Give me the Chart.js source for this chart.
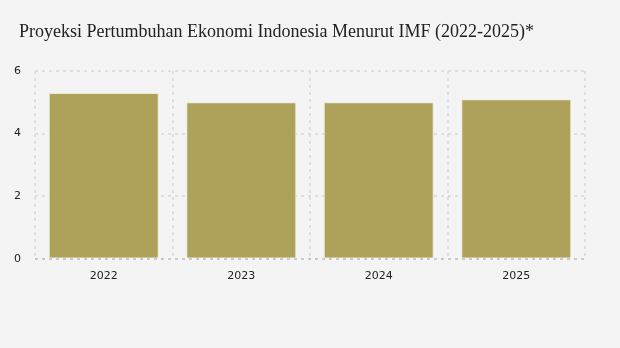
<!DOCTYPE html>
<html lang="id">
<head>
    <meta charset="UTF-8">
    <title>Proyeksi Pertumbuhan Ekonomi Indonesia</title>
    <style>
        html, body {
            margin: 0;
            padding: 0;
            background-color: #f4f4f4;
        }
        .chart-box {
            position: relative;
            width: 620px;
            height: 348px;
        }
        .chart-title {
            position: absolute;
            left: 19px;
            top: 21px;
            margin: 0;
            font-family: 'Liberation Serif', serif;
            font-size: 18px;
            font-weight: normal;
            line-height: 20px;
            color: #222222;
        }
    </style>
</head>
<body>
    <div class="chart-box">
        <h1 class="chart-title">Proyeksi Pertumbuhan Ekonomi Indonesia Menurut IMF (2022-2025)*</h1>
        <canvas id="growthChart" width="620" height="348"></canvas>
    </div>
    <script src="https://cdn.jsdelivr.net/npm/chart.js"></script>
    <script>
        // Data
        const years = ['2022', '2023', '2024', '2025'];
        const growth = [5.3, 5.0, 5.0, 5.1];
        const yTicks = [0, 2, 4, 6];

        const gridColor = '#dedede';
        const axisColor = '#cacaca';

        const ctx = document.getElementById('growthChart').getContext('2d');
        new Chart(ctx, {
            type: 'bar',
            data: {
                labels: years,
                datasets: [{
                    label: 'Pertumbuhan Ekonomi (%)',
                    data: growth,
                    backgroundColor: '#aea15a',
                    borderColor: '#ece8cf',
                    borderWidth: 1,
                    categoryPercentage: 0.8,
                    barPercentage: 1.0
                }]
            },
            options: {
                responsive: false,
                animation: false,
                layout: {
                    padding: { left: 0, right: 35, top: 71, bottom: 54 }
                },
                plugins: {
                    legend: { display: false },
                    tooltip: { enabled: false }
                },
                scales: {
                    x: {
                        grid: {
                            color: gridColor,
                            lineWidth: 2,
                            drawTicks: false
                        },
                        border: { display: false, dash: [3, 4] },
                        ticks: {
                            color: '#222222',
                            padding: 11,
                            font: { family: 'DejaVu Sans', size: 11 }
                        }
                    },
                    y: {
                        min: 0,
                        max: 6,
                        afterBuildTicks: axis => {
                            axis.ticks = yTicks.map(v => ({ value: v }));
                        },
                        afterFit: axis => {
                            axis.width = 35;
                        },
                        grid: {
                            // zero line is a bit darker, like an axis line
                            color: c => (c.tick && c.tick.value === 0) ? axisColor : gridColor,
                            lineWidth: 2,
                            drawTicks: false
                        },
                        border: { display: false, dash: [3, 4] },
                        ticks: {
                            color: '#222222',
                            padding: 14,
                            font: { family: 'DejaVu Sans', size: 11 }
                        }
                    }
                }
            }
        });
    </script>
</body>
</html>
